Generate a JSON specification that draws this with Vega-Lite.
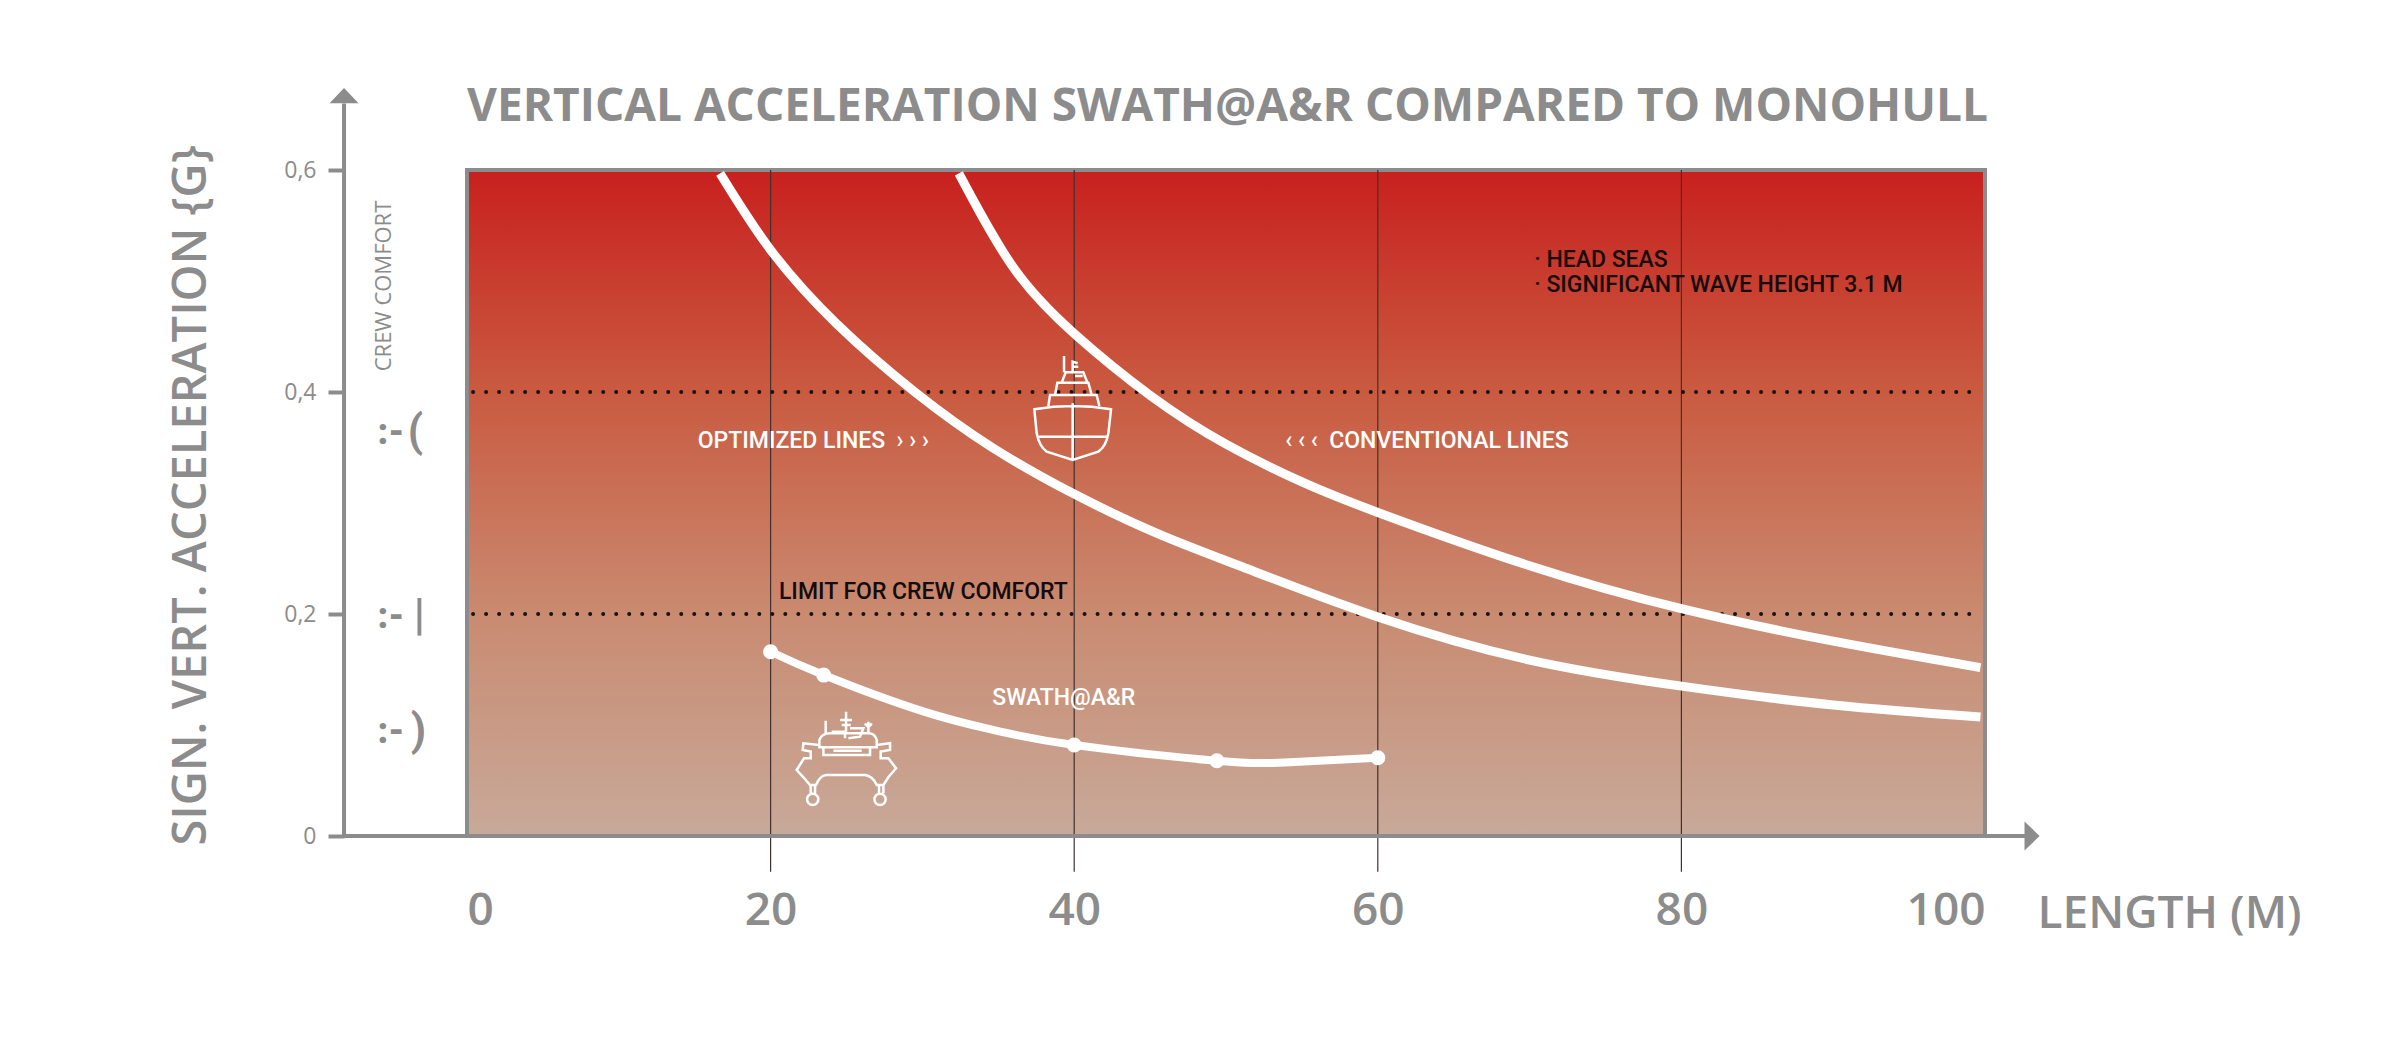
{
  "$schema": "https://vega.github.io/schema/vega-lite/v6.json",
  "description": "Vertical acceleration of SWATH@A&R compared to monohull",
  "autosize": {"type": "none"},
  "padding": {"left": 467, "top": 170, "right": 415, "bottom": 209},
  "width": 1518,
  "height": 666,
  "background": "white",
  "config": {"view": {"stroke": null}},
  "title": {
    "text": "VERTICAL ACCELERATION SWATH@A&R COMPARED TO MONOHULL",
    "anchor": "start",
    "frame": "group",
    "offset": 40,
    "dy": 119,
    "baseline": "alphabetic",
    "font": "Open Sans",
    "fontSize": 46,
    "fontWeight": 700,
    "color": "#8c8c8c"
  },
  "datasets": {
    "plot": [{"x": 0, "x2": 100, "y": 0, "y2": 0.6}],
    "grid": [
      {"x": 20, "y": 0.6, "y2": -0.0323},
      {"x": 40, "y": 0.6, "y2": -0.0323},
      {"x": 60, "y": 0.6, "y2": -0.0323},
      {"x": 80, "y": 0.6, "y2": -0.0323}
    ],
    "limits": [
      {"x": 0.4, "x2": 99.2, "y": 0.4},
      {"x": 0.4, "x2": 99.2, "y": 0.2}
    ],
    "curves": [
      {"series": "conventional", "x": 32.4, "y": 0.597},
      {"series": "conventional", "x": 36, "y": 0.512},
      {"series": "conventional", "x": 40, "y": 0.4526},
      {"series": "conventional", "x": 45, "y": 0.397},
      {"series": "conventional", "x": 50, "y": 0.353},
      {"series": "conventional", "x": 55, "y": 0.319},
      {"series": "conventional", "x": 60, "y": 0.2915},
      {"series": "conventional", "x": 70, "y": 0.2435},
      {"series": "conventional", "x": 80, "y": 0.2048},
      {"series": "conventional", "x": 90, "y": 0.1755},
      {"series": "conventional", "x": 99.7, "y": 0.1517},
      {"series": "optimized", "x": 16.67, "y": 0.597},
      {"series": "optimized", "x": 20, "y": 0.528},
      {"series": "optimized", "x": 24.33, "y": 0.4617},
      {"series": "optimized", "x": 29.5, "y": 0.4},
      {"series": "optimized", "x": 34.6, "y": 0.35},
      {"series": "optimized", "x": 40, "y": 0.308},
      {"series": "optimized", "x": 45.5, "y": 0.2724},
      {"series": "optimized", "x": 51.1, "y": 0.2423},
      {"series": "optimized", "x": 60, "y": 0.1973},
      {"series": "optimized", "x": 70, "y": 0.1585},
      {"series": "optimized", "x": 80, "y": 0.135},
      {"series": "optimized", "x": 90, "y": 0.118},
      {"series": "optimized", "x": 99.7, "y": 0.1072}
    ],
    "swath": [
      {"x": 20, "y": 0.166},
      {"x": 23.5, "y": 0.145},
      {"x": 30.1, "y": 0.112},
      {"x": 35, "y": 0.0945},
      {"x": 40, "y": 0.082},
      {"x": 49.4, "y": 0.0678},
      {"x": 54.2, "y": 0.0665},
      {"x": 60, "y": 0.0705}
    ],
    "swath_points": [
      {"x": 20, "y": 0.166},
      {"x": 23.5, "y": 0.145},
      {"x": 40, "y": 0.082},
      {"x": 49.4, "y": 0.0678},
      {"x": 60, "y": 0.0705}
    ],
    "labels": [
      {"kind": "curve", "x": 15.2, "y": 0.356, "text": "OPTIMIZED LINES\u00a0\u00a0› › ›"},
      {"kind": "curve", "x": 53.9, "y": 0.356, "text": "‹ ‹ ‹\u00a0\u00a0CONVENTIONAL LINES"},
      {"kind": "curve", "x": 34.6, "y": 0.1243, "text": "SWATH@A&R"},
      {"kind": "note", "x": 20.55, "y": 0.2198, "text": "LIMIT FOR CREW COMFORT"},
      {"kind": "note", "x": 70.3, "y": 0.519, "text": "· HEAD SEAS"},
      {"kind": "note", "x": 70.3, "y": 0.4966, "text": "· SIGNIFICANT WAVE HEIGHT 3.1 M"}
    ],
    "comfort": [
      {"x": -5.9, "y": 0.363, "text": ":-"},
      {"x": -5.9, "y": 0.197, "text": ":-"},
      {"x": -5.9, "y": 0.0937, "text": ":-"}
    ],
    "mouths": [
      {"x": -3.9, "y": 0.363, "text": "("},
      {"x": -3.5, "y": 0.197, "text": "|"},
      {"x": -3.7, "y": 0.0937, "text": ")"}
    ]
  },
  "encoding": {
    "x": {
      "field": "x",
      "type": "quantitative",
      "scale": {"domain": [0, 100], "nice": false},
      "axis": {
        "values": [0, 20, 40, 60, 80, 100],
        "grid": false,
        "domain": false,
        "ticks": false,
        "labelFlush": true,
        "labelPadding": 52,
        "labelFont": "Open Sans",
        "labelFontSize": 46,
        "labelFontWeight": 600,
        "labelColor": "#8c8c8c",
        "title": "LENGTH (M)",
        "titleFont": "Open Sans",
        "titleFontSize": 46,
        "titleFontWeight": 600,
        "titleColor": "#8c8c8c",
        "titleAlign": "left",
        "titleBaseline": "alphabetic",
        "titleX": 1570,
        "titleY": 91
      }
    },
    "y": {
      "field": "y",
      "type": "quantitative",
      "scale": {"domain": [0, 0.6], "nice": false},
      "axis": {
        "values": [0, 0.2, 0.4, 0.6],
        "grid": false,
        "domain": false,
        "offset": 123,
        "tickSize": 16,
        "tickWidth": 4,
        "tickColor": "#8c8c8c",
        "labelPadding": 12,
        "labelFont": "Open Sans",
        "labelFontSize": 23,
        "labelColor": "#8c8c8c",
        "labelExpr": "datum.value == 0 ? '0' : replace(format(datum.value, '.1f'), '.', ',')",
        "title": "SIGN. VERT. ACCELERATION {G}",
        "titleFont": "Open Sans",
        "titleFontSize": 47,
        "titleFontWeight": 600,
        "titleColor": "#8c8c8c",
        "titleAngle": 270,
        "titleAlign": "left",
        "titleBaseline": "alphabetic",
        "titleX": -139,
        "titleY": 675
      }
    }
  },
  "layer": [
    {
      "data": {"name": "plot"},
      "mark": {
        "type": "rect",
        "stroke": "#8c8c8c",
        "strokeWidth": 4,
        "fill": {
          "gradient": "linear",
          "x1": 0, "y1": 0, "x2": 0, "y2": 1,
          "stops": [
            {"offset": 0, "color": "#c8201e"},
            {"offset": 0.33, "color": "#c95a40"},
            {"offset": 0.67, "color": "#c98b71"},
            {"offset": 1, "color": "#c8a999"}
          ]
        }
      },
      "encoding": {"x2": {"field": "x2"}, "y2": {"field": "y2"}}
    },
    {
      "data": {"name": "grid"},
      "mark": {"type": "rule", "color": "#3f3230", "strokeWidth": 1.2},
      "encoding": {"y2": {"field": "y2"}}
    },
    {
      "data": {"name": "limits"},
      "mark": {"type": "rule", "color": "#1a1210", "strokeWidth": 4, "strokeCap": "round", "strokeDash": [0.01, 13]},
      "encoding": {"x2": {"field": "x2"}}
    },
    {
      "data": {"values": [{"x": -8.1, "y": 0, "y2": 0.66}]},
      "mark": {"type": "rule", "color": "#8c8c8c", "strokeWidth": 4},
      "encoding": {"y2": {"field": "y2"}}
    },
    {
      "data": {"values": [{"x": -8.1, "x2": 102.7, "y": 0}]},
      "mark": {"type": "rule", "color": "#8c8c8c", "strokeWidth": 4},
      "encoding": {"x2": {"field": "x2"}}
    },
    {
      "data": {"values": [{"x": -8.1, "y": 0.667}]},
      "mark": {"type": "point", "shape": "M0,-0.52L1,0.52L-1,0.52Z", "size": 841, "filled": true, "color": "#8c8c8c", "opacity": 1}
    },
    {
      "data": {"values": [{"x": 103.1, "y": 0}]},
      "mark": {"type": "point", "shape": "M0.52,0L-0.52,-1L-0.52,1Z", "size": 841, "filled": true, "color": "#8c8c8c", "opacity": 1}
    },
    {
      "data": {"name": "curves"},
      "mark": {"type": "line", "color": "white", "strokeWidth": 9, "interpolate": "natural"},
      "encoding": {"detail": {"field": "series"}}
    },
    {
      "data": {"name": "swath"},
      "mark": {"type": "line", "color": "white", "strokeWidth": 8, "interpolate": "natural"}
    },
    {
      "data": {"name": "swath_points"},
      "mark": {"type": "circle", "color": "white", "size": 227, "opacity": 1}
    },
    {
      "data": {"values": [{"x": 39.9, "y": 0.3853}]},
      "mark": {
        "type": "point",
        "color": "white",
        "opacity": 1,
        "filled": false,
        "strokeWidth": 2.5,
        "size": 11378,
        "shape": "M-.719,.019Q0,-.106,.719,.019L.669,.469Q.625,.719,.481,.8125L0,.969L-.4875,.8125Q-.625,.719,-.675,.469ZM-.644,.531L.65,.531M0,-.094L0,.969M-.456,-.044L-.425,-.25L.45,-.25L.5,-.044M-.331,-.25L-.2875,-.481L.294,-.481L.356,-.25M-.206,-.481L-.131,-.675L.2,-.675L.275,-.481M-.1625,-.675L-.1625,-.981M0,-.675L0,-.875L.094,-.844M0,-.781L.106,-.781M.044,-.606L.1875,-.606"
      }
    },
    {
      "data": {"values": [{"x": 24.97, "y": 0.067}]},
      "mark": {
        "type": "point",
        "color": "white",
        "opacity": 1,
        "filled": false,
        "strokeWidth": 2.5,
        "size": 10000,
        "shape": "M-.533,-.433Q-.487,-.567,-.32,-.567L.447,-.567Q.58,-.567,.613,-.433L.613,-.287L-.533,-.287ZM-.533,-.333L-.853,-.367L-.867,-.233L-.707,-.2L-.707,-.067L-.84,-.067L-.987,.167L-.853,.313L-.72,.467L-.6,.467Q-.52,.267,-.387,.267L.38,.267Q.533,.287,.613,.467L.747,.467L.847,.313L1,.133L.847,-.067L.693,-.067L.693,-.2L.88,-.233L.88,-.367L.613,-.333M-.707,.467L-.707,.633M-.62,.467L-.62,.633M.66,.467L.66,.633M.747,.467L.747,.633M-.78,.753A.113,.113,0,1,0,-.554,.753A.113,.113,0,1,0,-.78,.753ZM.567,.753A.113,.113,0,1,0,.793,.753A.113,.113,0,1,0,.567,.753ZM-.453,-.287L-.453,-.133L.48,-.133L.48,-.287M-.253,-.22L.313,-.22M-.407,-.82L-.407,-.567M0,-1L0,-.6M-.12,-.833L.12,-.833M-.087,-.733L.093,-.733M-.287,-.6L-.02,-.6L-.02,-.467M.047,-.467L.28,-.5L.347,-.667L.08,-.667M.447,-.8L.447,-.567M.38,-.767Q.447,-.647,.513,-.767"
      }
    },
    {
      "data": {"name": "labels"},
      "mark": {"type": "text", "align": "left", "baseline": "middle", "font": "Roboto", "fontSize": 23, "fontWeight": 500},
      "encoding": {
        "text": {"field": "text"},
        "color": {"field": "kind", "type": "nominal", "scale": {"domain": ["curve", "note"], "range": ["#ffffff", "#140c0a"]}, "legend": null}
      }
    },
    {
      "data": {"values": [{"x": -5.45, "y": 0.4955, "text": "CREW COMFORT"}]},
      "mark": {"type": "text", "angle": 270, "align": "center", "baseline": "middle", "font": "Open Sans", "fontSize": 22, "color": "#8c8c8c"},
      "encoding": {"text": {"field": "text"}}
    },
    {
      "data": {"name": "comfort"},
      "mark": {"type": "text", "align": "left", "baseline": "middle", "font": "Roboto", "fontSize": 36, "fontWeight": 900, "color": "#8c8c8c"},
      "encoding": {"text": {"field": "text"}}
    },
    {
      "data": {"name": "mouths"},
      "mark": {"type": "text", "align": "left", "baseline": "middle", "font": "Roboto", "fontSize": 44, "fontWeight": 700, "color": "#8c8c8c"},
      "encoding": {"text": {"field": "text"}}
    }
  ]
}
